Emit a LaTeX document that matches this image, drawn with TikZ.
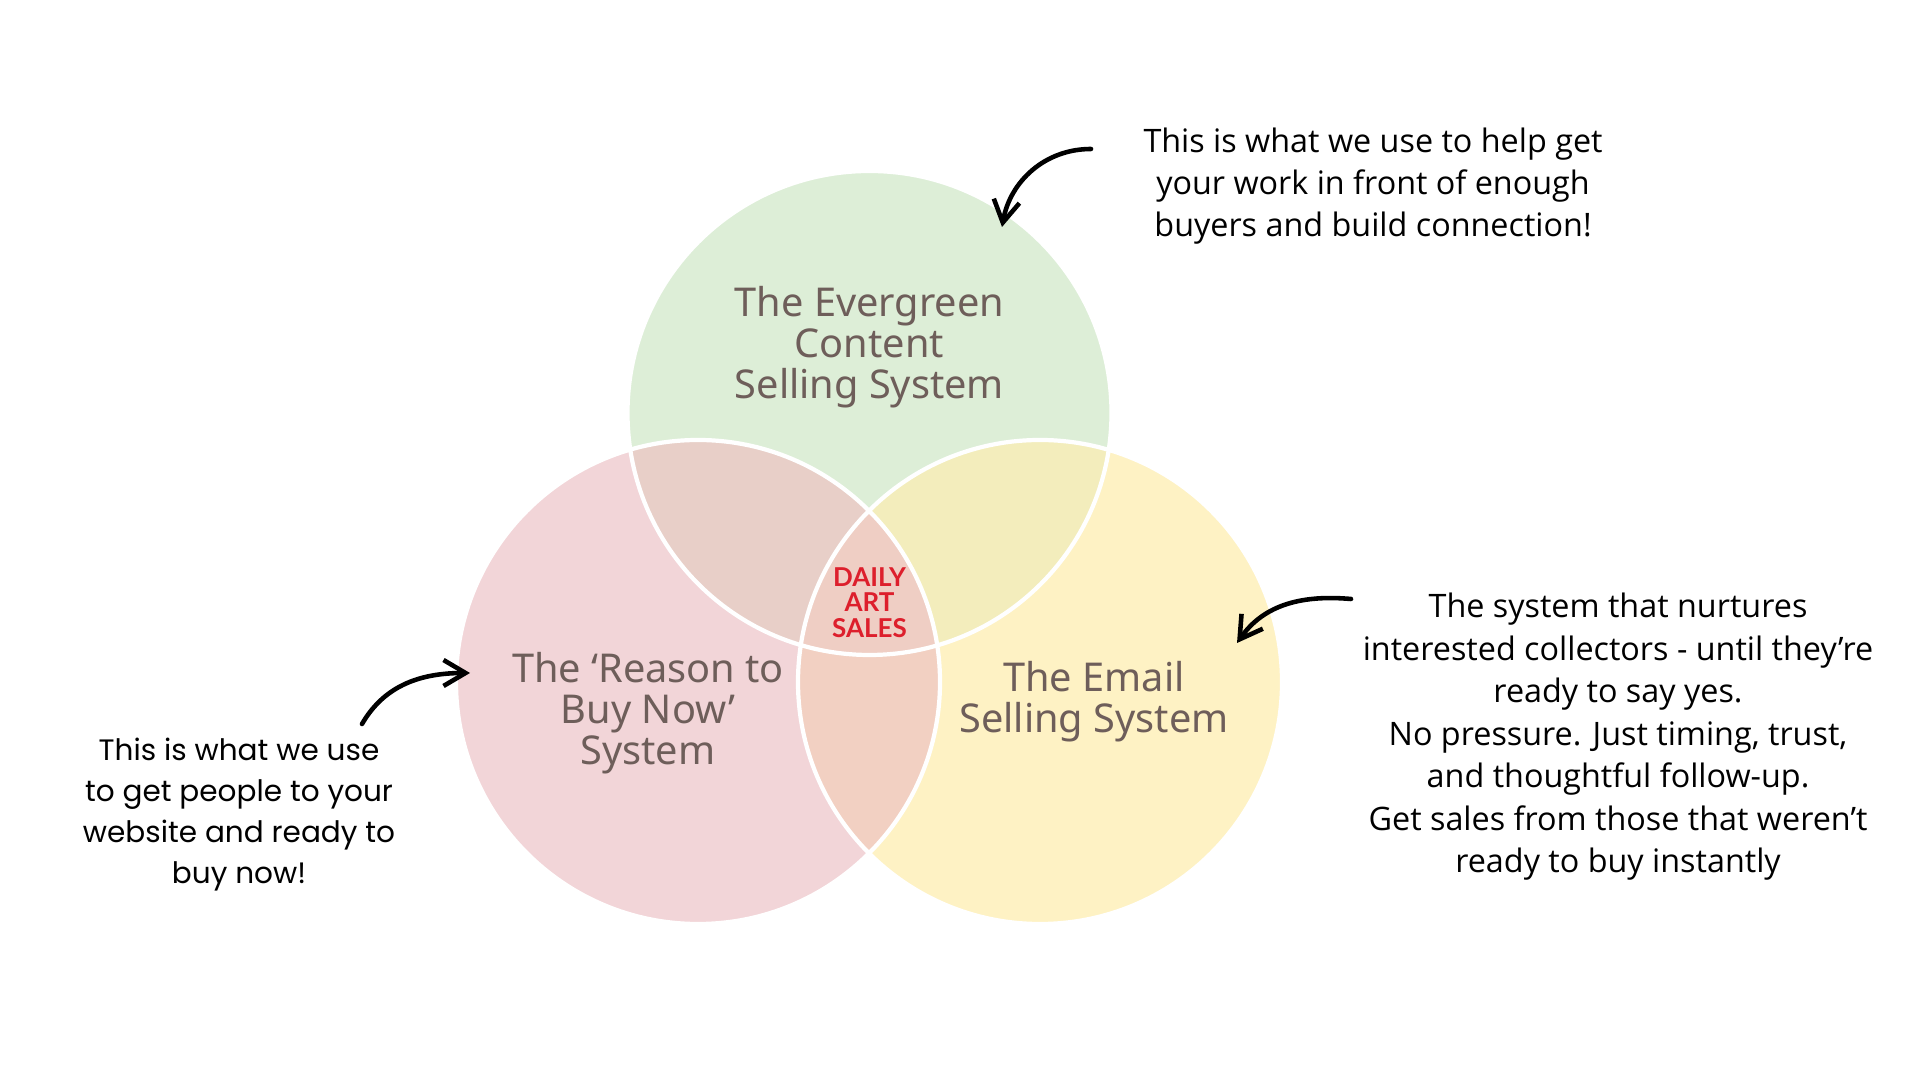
\documentclass[tikz,border=0pt]{standalone}
\usepackage{fontspec}
\setmainfont{Lato}
\newfontfamily\labelfont{Noto Sans}
\newfontfamily\notefont{Open Sans}
\newfontfamily\leftfont{Poppins}
\usetikzlibrary{arrows.meta, positioning}
\definecolor{cgreen}{HTML}{DDEED7}
\definecolor{cpink}{HTML}{F2D5D8}
\definecolor{cyellow}{HTML}{FEF2C4}
\definecolor{cgp}{HTML}{E8CFC8}
\definecolor{cgy}{HTML}{F3EDBC}
\definecolor{cpy}{HTML}{F2D0C2}
\definecolor{ccore}{HTML}{EFCEC4}
\definecolor{cbrown}{HTML}{6E5E5A}
\definecolor{cred}{HTML}{DD1F2C}
\tikzset{
  every picture/.style={line width=1.2pt},
  setlabel/.style={text=cbrown, align=center, font=\labelfont\fontsize{11.3}{11.7}\selectfont},
  note/.style={align=center, font=\notefont\fontsize{9.2}{11.9}\selectfont},
  arrow/.style={-{Straight Barb[length=2.2mm, width=2.6mm]}, line width=1.3pt, line cap=round},
  rim/.style={draw=white, line width=1.2pt},
}

\begin{document}
\begin{tikzpicture}[x=1cm, y=1cm]
  \useasboundingbox (0,0) rectangle (19.2,10.8);
  \fill[white] (0,0) rectangle (19.2,10.8);
  \coordinate (cTop) at (8.695,6.67);
  \coordinate (cLeft) at (6.98,3.98);
  \coordinate (cRight) at (10.40,3.98);
  \def\rad{2.42}
  % the three sets
  \fill[cgreen] (cTop) circle (\rad);
  \fill[cpink] (cLeft) circle (\rad);
  \fill[cyellow] (cRight) circle (\rad);
  % overlaps
  \begin{scope}
    \clip (cTop) circle (\rad);
    \fill[cgp] (cLeft) circle (\rad);
    \fill[cgy] (cRight) circle (\rad);
  \end{scope}
  \begin{scope}
    \clip (cLeft) circle (\rad);
    \fill[cpy] (cRight) circle (\rad);
    \clip (cRight) circle (\rad);
    \fill[ccore] (cTop) circle (\rad);
  \end{scope}
  \draw[rim] (cTop) circle (\rad) (cLeft) circle (\rad) (cRight) circle (\rad);
  % labels
  \node[setlabel] (evergreen) at (8.695,7.33) {The Evergreen\\Content\\Selling System};
  \node[setlabel] (reason) at (6.48,3.67) {The ‘Reason to\\Buy Now’\\System};
  \node[setlabel] (email) at (10.94,3.78) {The Email\\Selling System};
  \node[text=cred, align=center, font=\fontsize{7.4}{7.3}\selectfont\bfseries] (daily) at (8.695,4.775) {DAILY\\ART\\SALES};
  % notes
  \node[note] (topnote) at (13.73,8.94) {This is what we use to help get\\your work in front of enough\\buyers and build connection!};
  \node[note, font=\notefont\fontsize{9.2}{12.1}\selectfont] (rightnote) at (16.18,3.43) {The system that nurtures\\interested collectors - until they’re\\ready to say yes.\\No pressure. Just timing, trust,\\and thoughtful follow-up.\\Get sales from those that weren’t\\ready to buy instantly};
  \node[note, font=\leftfont\fontsize{8.4}{11.6}\selectfont] (leftnote) at (2.39,2.655) {This is what we use\\to get people to your\\website and ready to\\buy now!};
  % arrows
  \coordinate (topA) at (10.91,9.31);
  \coordinate (topB) at (10.02,8.53);
  \coordinate (rightA) at (13.51,4.81);
  \coordinate (rightB) at (12.37,4.37);
  \coordinate (leftA) at (3.62,3.56);
  \coordinate (leftB) at (4.70,4.07);
  \draw[arrow] (topA) to[out=180, in=80] (topB);
  \draw[arrow] (rightA) to[out=175, in=55] (rightB);
  \draw[arrow] (leftA) to[out=60, in=180] (leftB);
\end{tikzpicture}
\end{document}
